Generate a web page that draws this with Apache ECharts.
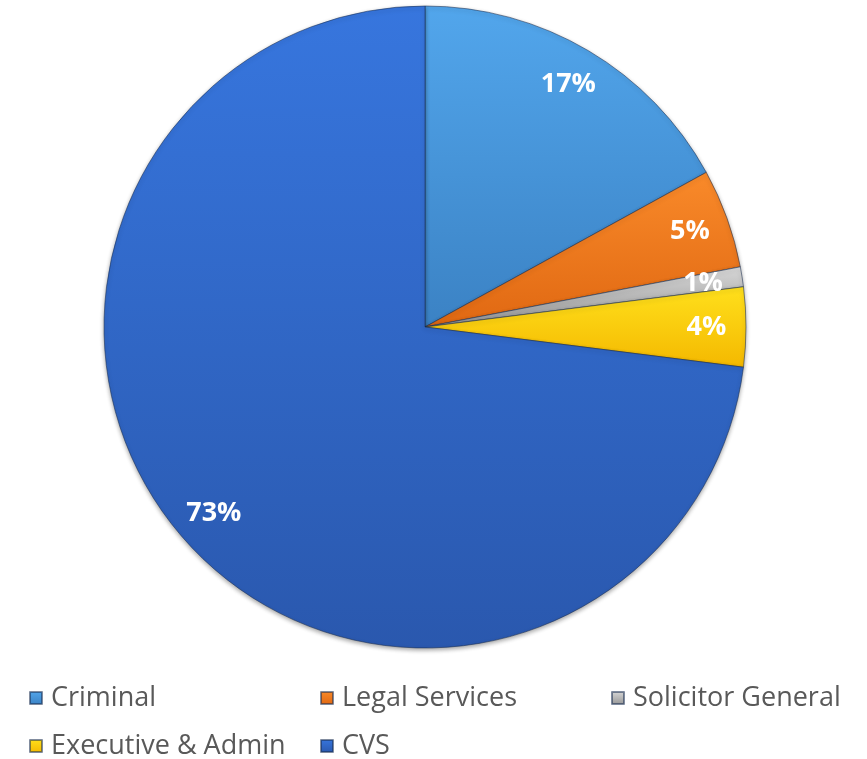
<!DOCTYPE html>
<html>
<head>
<meta charset="utf-8">
<title>Spending by division</title>
<script src="https://cdn.jsdelivr.net/npm/echarts@6/dist/echarts.min.js"></script>
<style>
  html, body { margin: 0; padding: 0; background: #ffffff; }
  #chart { width: 867px; height: 759px; }
</style>
</head>
<body>
<div id="chart"></div>
<script>
// Divisions and their share of the total (percent)
const categories = ['Criminal', 'Legal Services', 'Solicitor General', 'Executive & Admin', 'CVS'];
const shares = [17, 5, 1, 4, 73];

// Bevelled look: lighter at the top of each slice, darker towards the bottom
const topColors = ['#52a6ec', '#f98a2a', '#d8d8d8', '#ffe01c', '#3776de'];
const bottomColors = ['#3b82c4', '#e06812', '#959595', '#f4b800', '#2a58ae'];

const chart = echarts.init(document.getElementById('chart'), null, { renderer: 'canvas' });

function sliceColor(i) {
  return new echarts.graphic.LinearGradient(0, 0, 0, 1, [
    { offset: 0, color: topColors[i] },
    { offset: 1, color: bottomColors[i] }
  ]);
}

const pieData = categories.map((name, i) => ({
  name: name,
  value: shares[i],
  itemStyle: { color: sliceColor(i) }
}));

const labelData = categories.map((name, i) => ({ name: name, value: shares[i] }));

const legendText = {
  fontFamily: 'Open Sans',
  fontSize: 27,
  color: '#595959',
  lineHeight: 30
};

function legendFormatter(name) {
  return name === 'Solicitor General' ? '{d|' + name + '}' : '{c|' + name + '}';
}

const legendBase = {
  orient: 'horizontal',
  left: 29,
  padding: 0,
  itemWidth: 12,
  itemHeight: 12,
  itemGap: 10,
  icon: 'rect',
  selectedMode: false,
  formatter: legendFormatter,
  textStyle: Object.assign({}, legendText, {
    rich: {
      c: Object.assign({}, legendText, { width: 259, padding: [0, 0, 0, 4] }),
      d: Object.assign({}, legendText, { padding: [0, 0, 0, 4] })
    }
  })
};

chart.setOption({
  animation: false,
  backgroundColor: '#ffffff',
  legend: [
    Object.assign({}, legendBase, { top: 683, data: categories.slice(0, 3) }),
    Object.assign({}, legendBase, { top: 731, data: categories.slice(3) })
  ],
  series: [
    {
      name: 'Share',
      type: 'pie',
      center: [425, 327],
      radius: [0, 321],
      startAngle: 90,
      clockwise: true,
      avoidLabelOverlap: false,
      label: { show: false },
      labelLine: { show: false },
      emphasis: { disabled: true },
      itemStyle: {
        borderColor: 'rgba(25, 45, 80, 0.55)',
        borderWidth: 1,
        shadowBlur: 4,
        shadowOffsetY: 2,
        shadowColor: 'rgba(0, 0, 0, 0.35)'
      },
      data: pieData
    },
    {
      // Transparent ring that carries the percentage labels near the rim
      name: 'Labels',
      type: 'pie',
      center: [425, 327],
      radius: [236, 321],
      startAngle: 90,
      clockwise: true,
      silent: true,
      avoidLabelOverlap: false,
      itemStyle: { color: 'transparent', borderWidth: 0 },
      emphasis: { disabled: true },
      labelLine: { show: false },
      label: {
        show: true,
        position: 'inside',
        color: '#ffffff',
        fontFamily: 'Open Sans',
        fontWeight: 'bold',
        fontSize: 27,
        formatter: p => Math.round(p.percent) + '%'
      },
      data: labelData
    }
  ]
});
</script>
</body>
</html>
